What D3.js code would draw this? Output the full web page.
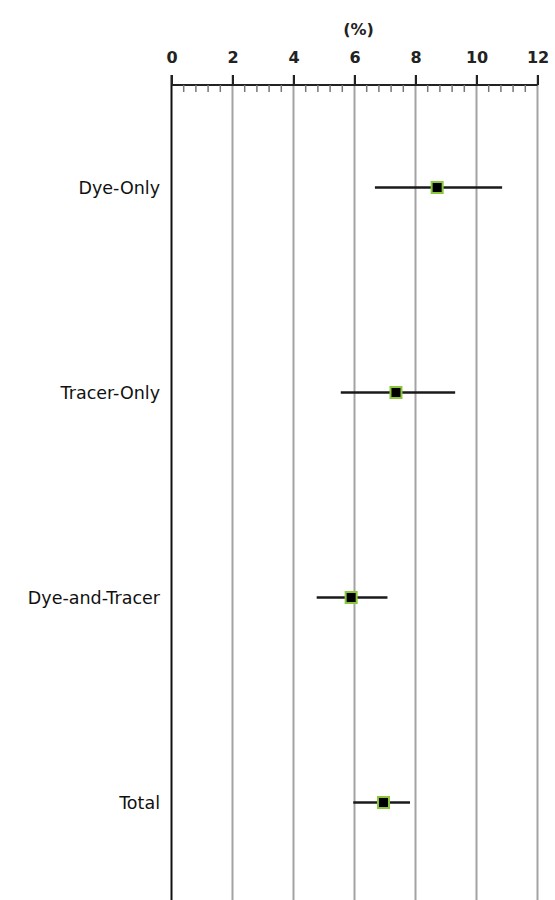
<!DOCTYPE html>
<html>
<head>
<meta charset="utf-8">
<script src="https://cdn.jsdelivr.net/npm/d3@7/dist/d3.min.js"></script>
<style>
  html, body { margin: 0; padding: 0; background: #fff; }
  svg { display: block; }
</style>
</head>
<body>
<div id="chart"></div>
<script>
// Estimated percentages with confidence intervals by group
const categories = ["Dye-Only", "Tracer-Only", "Dye-and-Tracer", "Total"];
const estimates  = [8.71, 7.36, 5.89, 6.95];
const lowerCI    = [6.67, 5.55, 4.76, 5.96];
const upperCI    = [10.84, 9.30, 7.08, 7.82];
const majorTicks = [0, 2, 4, 6, 8, 10, 12];
const axisTitle  = "(%)";

const W = 555, H = 900;
const svg = d3.select("#chart").append("svg")
  .attr("width", W).attr("height", H);

const axisY = 85;
const x = d3.scaleLinear().domain([0, 12]).range([171.5, 537.5]);
const y = d3.scaleBand().domain(categories).range([axisY, 905]);

const rows = categories.map((c, i) => ({
  cat: c, est: estimates[i], lo: lowerCI[i], hi: upperCI[i]
}));

// Vertical gridlines at major ticks
svg.append("g").selectAll("line")
  .data(majorTicks.filter(t => t > 0))
  .join("line")
  .attr("x1", d => x(d)).attr("x2", d => x(d))
  .attr("y1", axisY - 10).attr("y2", H)
  .attr("stroke", "#a3a3a3").attr("stroke-width", 2);

// Left axis line
svg.append("line")
  .attr("x1", x(0)).attr("x2", x(0))
  .attr("y1", axisY - 10).attr("y2", H)
  .attr("stroke", "#111").attr("stroke-width", 2);

// Top axis
const axis = d3.axisTop(x).tickValues(majorTicks).tickSize(10).tickPadding(12);
const gAxis = svg.append("g")
  .attr("transform", `translate(0,${axisY})`)
  .call(axis);
gAxis.select(".domain").attr("stroke", "#222").attr("stroke-width", 2)
  .attr("d", `M${x(0)},0H${x(12)}`);
gAxis.selectAll(".tick line").attr("stroke", "#222").attr("stroke-width", 2);
gAxis.selectAll(".tick text")
  .attr("fill", "#222")
  .style("font-family", "'DejaVu Sans', sans-serif")
  .style("font-size", "16px")
  .style("font-weight", "bold");

// Minor ticks every 0.4 below the axis line
const minor = d3.range(0, 12.001, 0.4).filter(v => Math.abs(v / 2 - Math.round(v / 2)) > 0.01);
svg.append("g").selectAll("line")
  .data(minor)
  .join("line")
  .attr("x1", d => x(d)).attr("x2", d => x(d))
  .attr("y1", axisY).attr("y2", axisY + 7)
  .attr("stroke", "#777").attr("stroke-width", 1.5);

// Axis title
svg.append("text")
  .attr("x", x(6) + 4).attr("y", 35)
  .attr("text-anchor", "middle")
  .attr("fill", "#222")
  .style("font-family", "'DejaVu Sans', sans-serif")
  .style("font-size", "16px")
  .style("font-weight", "bold")
  .text(axisTitle);

// Category labels
svg.append("g").selectAll("text")
  .data(rows)
  .join("text")
  .attr("x", 160)
  .attr("y", d => y(d.cat) + y.bandwidth() / 2)
  .attr("dy", "0.35em")
  .attr("text-anchor", "end")
  .attr("fill", "#111")
  .style("font-family", "'DejaVu Sans', sans-serif")
  .style("font-size", "17.5px")
  .text(d => d.cat);

// Confidence interval lines
svg.append("g").selectAll("line")
  .data(rows)
  .join("line")
  .attr("x1", d => x(d.lo)).attr("x2", d => x(d.hi))
  .attr("y1", d => y(d.cat) + y.bandwidth() / 2)
  .attr("y2", d => y(d.cat) + y.bandwidth() / 2)
  .attr("stroke", "#1a1a1a").attr("stroke-width", 2.5);

// Point estimate markers
const s = 11;
svg.append("g").selectAll("rect")
  .data(rows)
  .join("rect")
  .attr("x", d => x(d.est) - s / 2)
  .attr("y", d => y(d.cat) + y.bandwidth() / 2 - s / 2)
  .attr("width", s).attr("height", s)
  .attr("fill", "#000")
  .attr("stroke", "#8cc63e").attr("stroke-width", 2);
</script>
</body>
</html>
